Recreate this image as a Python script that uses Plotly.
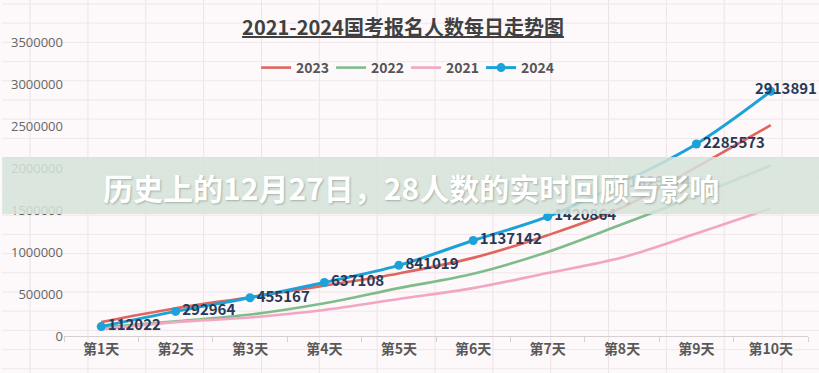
import plotly.graph_objects as go

days = ["第1天", "第2天", "第3天", "第4天", "第5天", "第6天", "第7天", "第8天", "第9天", "第10天"]
v2023 = [165000, 330000, 462000, 600000, 745000, 930000, 1200000, 1530000, 2010000, 2510000]
v2022 = [100000, 175000, 255000, 390000, 570000, 740000, 1000000, 1330000, 1670000, 2030000]
v2021 = [80000, 165000, 220000, 310000, 440000, 570000, 750000, 935000, 1220000, 1520000]
v2024 = [112022, 292964, 455167, 637108, 841019, 1137142, 1420864, 1823574, 2285573, 2913891]
y_ticks = [0, 500000, 1000000, 1500000, 2000000, 2500000, 3000000, 3500000]

title_text = "2021-2024国考报名人数每日走势图"
banner_text = "历史上的12月27日，28人数的实时回顾与影响"

W, H = 819, 373
L, R, T, B = 62, 11, 42, 37
PW, PH = W - L - R, H - T - B

def px(x):
    return (x - L) / PW

def py(y):
    return (H - B - y) / PH

CJK = "Noto Sans CJK SC"

fig = go.Figure()
fig.add_trace(go.Scatter(x=days, y=v2023, name="2023", mode="lines",
                         line=dict(color="#e0655f", width=2.6, shape="spline")))
fig.add_trace(go.Scatter(x=days, y=v2022, name="2022", mode="lines",
                         line=dict(color="#7fbc8c", width=2.6, shape="spline")))
fig.add_trace(go.Scatter(x=days, y=v2021, name="2021", mode="lines",
                         line=dict(color="#f2a6c2", width=2.6, shape="spline")))
labels = [f"{v}" for v in v2024[:-1]] + [""]
fig.add_trace(go.Scatter(x=days, y=v2024, name="2024", mode="lines+markers+text",
                         line=dict(color="#1ba3d9", width=3, shape="spline"),
                         marker=dict(size=9, color="#1ba3d9"),
                         text=labels, textposition="middle right",
                         textfont=dict(family=CJK, size=15, color="#263a57", weight="bold"),
                         cliponaxis=False))

shapes = []
# spreadsheet cell grid in the background
for k in range(14):
    x = 28 + 58 * k
    shapes.append(dict(type="line", xref="paper", yref="paper", x0=px(x), x1=px(x),
                       y0=py(0), y1=py(H), line=dict(color="#ede3e6", width=1), layer="below"))
for k in range(20):
    y = 4 + 19.2 * k
    shapes.append(dict(type="line", xref="paper", yref="paper", x0=px(0), x1=px(W),
                       y0=py(y), y1=py(y), line=dict(color="#efe6e8", width=1), layer="below"))
# banner
shapes.append(dict(type="rect", xref="paper", yref="paper", x0=px(0), x1=px(W),
                   y0=py(214), y1=py(157), fillcolor="rgb(213,227,218)", opacity=0.86,
                   line=dict(width=0), layer="above"))

annotations = [
    dict(xref="paper", yref="paper", x=px(410), y=py(187), text=banner_text, showarrow=False,
         xanchor="center", yanchor="middle",
         font=dict(family=CJK, size=30, color="white", weight="bold",
                   shadow="1px 1px 2px rgba(90,110,100,0.45)")),
    dict(x=days[-1], y=v2024[-1], text=f"{v2024[-1]}", showarrow=False,
         xanchor="left", yanchor="middle", xshift=-18, yshift=4,
         font=dict(family=CJK, size=15, color="#263a57", weight="bold")),
]

fig.update_layout(
    width=W, height=H,
    margin=dict(l=L, r=R, t=T, b=B),
    paper_bgcolor="#fdf8f9",
    plot_bgcolor="rgba(0,0,0,0)",
    title=dict(text=title_text, x=403 / W, xanchor="center", y=1 - 28 / H, yanchor="middle",
               font=dict(family=CJK, size=20, color="#404040", weight="bold", lineposition="under")),
    legend=dict(orientation="h", x=px(405), xanchor="center", y=py(68), yanchor="middle",
                font=dict(family=CJK, size=14, color="#555555", weight="bold"),
                bgcolor="rgba(0,0,0,0)", itemwidth=30, traceorder="normal",
                entrywidth=30, entrywidthmode="pixels"),
    shapes=shapes,
    annotations=annotations,
    showlegend=True,
)
fig.update_xaxes(type="category", range=[-0.5, 9.5], showgrid=False, showline=True,
                 linecolor="#d6d0d2", linewidth=1, ticks="outside", tickson="boundaries",
                 ticklen=5, tickcolor="#d6d0d2",
                 tickfont=dict(family=CJK, size=14, color="#595959", weight="bold"))
fig.update_yaxes(range=[0, 3500000], tickvals=y_ticks, ticktext=[str(v) for v in y_ticks],
                 showgrid=False, zeroline=False, showline=False,
                 tickfont=dict(family="Open Sans", size=13, color="#666666"))

fig.write_html("out.html", config={"displayModeBar": False},
               post_script="document.body.style.margin='0';document.body.style.background='#fdf8f9';")
